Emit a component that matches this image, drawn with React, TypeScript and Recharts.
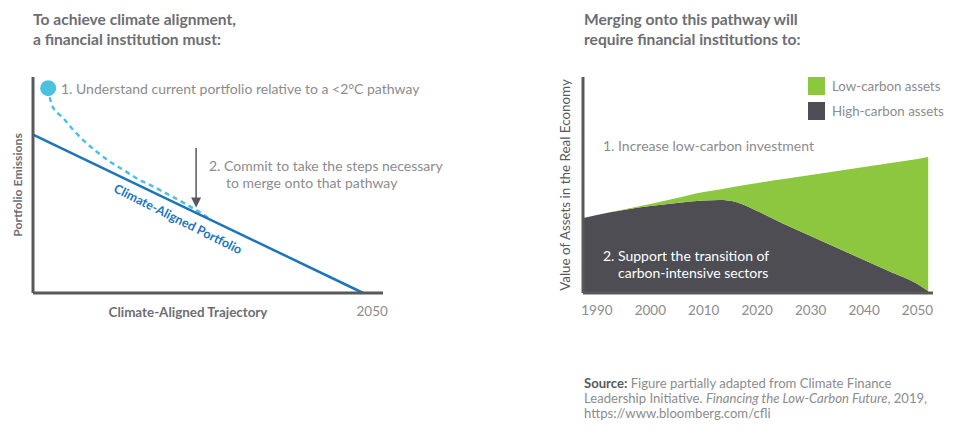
import React from 'react';
import {
    ComposedChart,
    AreaChart,
    Area,
    Line,
    XAxis,
    YAxis,
    ReferenceDot,
    ReferenceLine,
    Legend,
} from 'recharts';

// left panel: index 0..100 along the trajectory, emissions 0..135
const ALIGNED_X = [0, 100];
const ALIGNED_Y = [99, 0];
const PORTFOLIO_X = [4.6, 5.7, 9.2, 12.2, 15.2, 19.3, 23.3, 27.4, 31.4, 36.5, 41.5, 46.6, 50.5, 54];
const PORTFOLIO_Y = [128, 117.5, 109.2, 101.9, 95.6, 88.3, 82.1, 76.9, 71.7, 66.4, 61, 55.2, 50.4, 45.5];
const LEFT_TICKS = [100];
const LEFT_TICK_LABELS = ['2050'];

// right panel: value of assets by year
const YEARS = [1987.5, 1990, 1995, 2000, 2005, 2010, 2013, 2016, 2020, 2025, 2030, 2035, 2040, 2045, 2050, 2052];
const HIGH_CARBON = [75, 78, 83, 87, 90, 92.5, 93, 91, 82, 69, 57, 45, 33, 21, 9, 2];
const LOW_CARBON = [0, 0, 0.5, 2, 5, 8.5, 10.5, 15.5, 28, 45, 61, 77, 93, 109, 125, 134];
const YEAR_TICKS = [1990, 2000, 2010, 2020, 2030, 2040, 2050];

const FONT = 'Lato, "Open Sans", sans-serif';
const AXIS = '#58595b';
const TEXT_GRAY = '#8c8c8c';
const TITLE = '#6d6e71';
const BLUE = '#1c75bc';
const CYAN = '#4ac1e0';
const GREEN = '#8dc63f';
const DARK = '#4d4d53';

const alignedData = ALIGNED_X.map((x, i) => ({ x, aligned: ALIGNED_Y[i] }));
const portfolioData = PORTFOLIO_X.map((x, i) => ({ x, portfolio: PORTFOLIO_Y[i] }));
const assetData = YEARS.map((year, i) => ({ year, high: HIGH_CARBON[i], low: LOW_CARBON[i] }));

const Arrow = (props: any) => {
    const { x1, y1, x2, y2 } = props;
    return (
        <g>
            <line x1={x1} y1={y1} x2={x2} y2={y2 - 8} stroke={AXIS} strokeWidth={1.5} />
            <polygon points={`${x2 - 5},${y2 - 10} ${x2 + 5},${y2 - 10} ${x2},${y2}`} fill={AXIS} />
        </g>
    );
};

const LegendBox = () => {
    const items = [
        { name: 'Low-carbon assets', color: GREEN },
        { name: 'High-carbon assets', color: DARK },
    ];
    return (
        <div style={{ fontFamily: FONT }}>
            {items.map((it) => (
                <div key={it.name} style={{ display: 'flex', alignItems: 'center', height: 18, marginBottom: 7 }}>
                    <span style={{ width: 17, height: 18, background: it.color, display: 'inline-block', marginRight: 7 }} />
                    <span style={{ fontSize: 13.3, color: TEXT_GRAY, whiteSpace: 'nowrap' }}>{it.name}</span>
                </div>
            ))}
        </div>
    );
};

export default function App() {
    return (
        <div style={{ position: 'absolute', left: 0, top: 0, width: 960, height: 444, background: '#fff', fontFamily: FONT }}>
            <div style={{ position: 'absolute', left: 0, top: 0 }}>
                <ComposedChart width={480} height={444} margin={{ top: 77, left: 13, right: 97, bottom: 121 }}>
                    <XAxis
                        dataKey="x"
                        type="number"
                        domain={[0, 106]}
                        ticks={LEFT_TICKS}
                        tickFormatter={(v) => LEFT_TICK_LABELS[LEFT_TICKS.indexOf(v)] ?? ''}
                        tickLine={false}
                        height={30}
                        tickMargin={7}
                        tick={{ fill: TEXT_GRAY, fontSize: 13.5, dx: 9 }}
                        axisLine={{ stroke: AXIS, strokeWidth: 3 }}
                        allowDuplicatedCategory={false}
                    />
                    <YAxis
                        type="number"
                        domain={[0, 135]}
                        width={20}
                        tick={false}
                        tickLine={false}
                        axisLine={{ stroke: AXIS, strokeWidth: 3 }}
                    />
                    <Line
                        data={portfolioData}
                        dataKey="portfolio"
                        type="monotone"
                        stroke={CYAN}
                        strokeWidth={2.5}
                        strokeDasharray="5 4"
                        dot={false}
                        isAnimationActive={false}
                    />
                    <Line
                        data={alignedData}
                        dataKey="aligned"
                        type="linear"
                        stroke={BLUE}
                        strokeWidth={2.5}
                        dot={false}
                        isAnimationActive={false}
                    />
                    <ReferenceDot x={PORTFOLIO_X[0]} y={PORTFOLIO_Y[0]} r={8} fill={CYAN} stroke="none" />
                    <ReferenceLine segment={[{ x: 49.4, y: 90.6 }, { x: 49.4, y: 53.5 }]} shape={Arrow} />
                </ComposedChart>
            </div>

            <div style={{ position: 'absolute', left: 480, top: 0 }}>
                <AreaChart width={480} height={444} data={assetData} margin={{ top: 77, left: 63, right: 27, bottom: 121 }}>
                    <XAxis
                        dataKey="year"
                        type="number"
                        domain={[1987.4, 2052.9]}
                        ticks={YEAR_TICKS}
                        tickLine={false}
                        height={30}
                        tickMargin={6}
                        tick={{ fill: TEXT_GRAY, fontSize: 13.5 }}
                        axisLine={{ stroke: AXIS, strokeWidth: 3 }}
                    />
                    <YAxis
                        type="number"
                        domain={[0, 216]}
                        width={40}
                        tick={false}
                        tickLine={false}
                        axisLine={{ stroke: AXIS, strokeWidth: 3 }}
                    />
                    <Area
                        dataKey="high"
                        stackId="a"
                        type="monotone"
                        stroke="none"
                        fill={DARK}
                        fillOpacity={1}
                        isAnimationActive={false}
                    />
                    <Area
                        dataKey="low"
                        stackId="a"
                        type="monotone"
                        stroke="none"
                        fill={GREEN}
                        fillOpacity={1}
                        isAnimationActive={false}
                    />
                    <Legend
                        layout="horizontal"
                        verticalAlign="middle"
                        align="center"
                        content={<LegendBox />}
                        wrapperStyle={{ top: 77, left: 328, width: 150 }}
                    />
                </AreaChart>
            </div>

            <svg width={960} height={444} style={{ position: 'absolute', left: 0, top: 0, pointerEvents: 'none' }} fontFamily={FONT}>
                <g fontSize={15.6} fontWeight={700} fill={TITLE} dominantBaseline="central">
                    <text x={33} y={19}>To achieve climate alignment,</text>
                    <text x={33} y={39}>a financial institution must:</text>
                    <text x={584} y={19}>Merging onto this pathway will</text>
                    <text x={584} y={39}>require financial institutions to:</text>
                </g>
                <g fontSize={14} fill={TEXT_GRAY} dominantBaseline="central">
                    <text x={61} y={88}>1. Understand current portfolio relative to a &lt;2°C pathway</text>
                    <text x={209} y={165}>2. Commit to take the steps necessary</text>
                    <text x={226} y={182}>to merge onto that pathway</text>
                    <text x={603} y={145}>1. Increase low-carbon investment</text>
                </g>
                <text x={178} y={219} fontSize={12.5} fontWeight={700} fill={BLUE} textAnchor="middle" dominantBaseline="central" transform="rotate(26.5 178 219)">
                    Climate-Aligned Portfolio
                </text>
                <text x={17} y={185} fontSize={12.2} fontWeight={700} fill={TITLE} textAnchor="middle" dominantBaseline="central" transform="rotate(-90 17 185)">
                    Portfolio Emissions
                </text>
                <text x={188} y={312} fontSize={13.4} fontWeight={700} fill={TITLE} textAnchor="middle" dominantBaseline="central">
                    Climate-Aligned Trajectory
                </text>
                <text x={565} y={185} fontSize={13.4} fill={AXIS} textAnchor="middle" dominantBaseline="central" transform="rotate(-90 565 185)">
                    Value of Assets in the Real Economy
                </text>
                <g fontSize={14} fill="#fff" dominantBaseline="central">
                    <text x={603} y={255}>2. Support the transition of</text>
                    <text x={618} y={272}>carbon-intensive sectors</text>
                </g>
                <g fontSize={13.1} fill={TEXT_GRAY} dominantBaseline="central">
                    <text x={584} y={383}>
                        <tspan fontWeight={700} fill={AXIS}>Source:</tspan> Figure partially adapted from Climate Finance
                    </text>
                    <text x={584} y={398}>
                        Leadership Initiative. <tspan fontStyle="italic">Financing the Low-Carbon Future</tspan>, 2019,
                    </text>
                    <text x={584} y={413}>https://www.bloomberg.com/cfli</text>
                </g>
            </svg>
        </div>
    );
}
